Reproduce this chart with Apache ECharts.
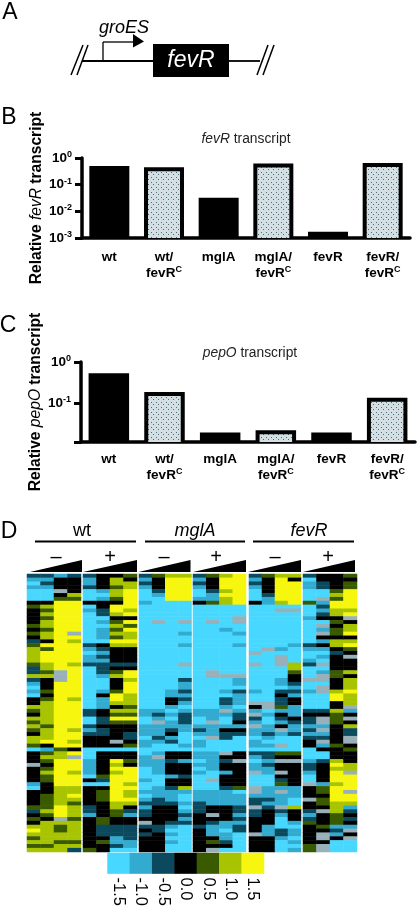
<!DOCTYPE html>
<html><head><meta charset="utf-8">
<style>html,body{margin:0;padding:0;background:#fff}#c{width:417px;height:909px}</style>
<script src="https://cdn.jsdelivr.net/npm/echarts@6/dist/echarts.min.js"></script>
</head><body><div id="c"></div>
<script>
const strainLabels = ['{b|wt}','{b|wt/}\n{b|fevR}{s|C}','{b|mglA}','{b|mglA/}\n{b|fevR}{s|C}','{b|fevR}','{b|fevR/}\n{b|fevR}{s|C}'];
const fevrValues = [0.5, 0.45, 0.032, 0.62, 0.0017, 0.65];
const pepoValues = [0.53, 0.186, 0.019, 0.0218, 0.019, 0.134];
const dottedBars = [false, true, false, true, false, true];
const colorbarTicks = ['-1.5','-1.0','-0.5','0.0','0.5','1.0','1.5'];
const levelValues = {1:-1.5,2:-1.0,3:-0.5,4:0,5:0.5,6:1.0,7:1.5,x:9};
const levelColors = ['#48d8ff','#33abd0','#0b4a5e','#000000','#3a5a00','#a8c400','#f6f60e'];
// one string per column, one character per gene row (1..7 = colour step, x = no data)
const wtMinus = [
 '32121114 54444545 43566665 33632121 44654656 54665144 4x444421 44445345 46765656',
 '32321114 65656656 64757776 65644454 56666665 66674256 54565544 45555654 66666656',
 '2444x457 77777777 77777777 7xxx7777 77777777 77777566 77777776 66667 77x 65566566',
 '34444657 7777777x 76777776 77777777 67777777 67767 47x 77767776 67656665 66666563'];
const wtPlus = [
 '32231114 12111111 11321223 11111111 11133113 23444111 22221414 44443324 44444445',
 '44442124 43312122 21432323 33211124 22244334 33444144 44445314 55544445 53334544',
 '46656654 77645656 57644443 45644457 76465754 444x4144 76767777 77766554 43332231',
 '54667777 76747576 67644443 47767776 66565754 43345144 54777767 66764324 43333221'];
const mglaMinus = [
 '32321112 11111111 11111111 11111111 11122112 22122112 22111211 21232334 x3434444',
 '54443211 1111x111 11111111 11111111 111232x2 2232112x 22221112 22334444 43344444',
 '67777771 11111111 11111111 11111122 44212122 34231144 34442443 22234444 32121211',
 '67777771 1111x112 1121111x 11132232 32123332 21112144 24443446 21121232 31111111'];
const mglaPlus = [
 '32321124 11111111 11111111 11111111 11122112 32122122 12121111 22233344 43444444',
 '54443225 1111x111 11111111 1xx11111 11122 2x2 22x11122 22211x11 22224 4x4 32224 54x',
 '67776766 11111121 11111111 11x11121 332x2112 43311 1x4 34424443 22224444 22122341',
 '77777777 111xx112 11211111 11x22132 22123342 43111144 x4444445 12223323 23311111'];
const fevrMinus = [
 '32321114 11111111 1111x11x 11111121 1x42x32x 22122132 122x111x x233x334 444x4444',
 '54444322 11111111 111x1111 11111111 1xx12112 23212133 23221112 22323444 42224444',
 '67777776 1x111111 11121xxx 11122134 33524324 x211x154 x44x4352 x222x321 11332111',
 '64777777 1x111111 11211116 65443232 44222432 23111154 x4444442 22116444 21221212'];
const fevrPlus = [
 '31221115 11121111 11321123 111x1121 11134332 32344111 23321 1x4 44x44323 54444455',
 '4433 11x2 32341x2x 42421 21x 12xx1xx1 11134xx2 x23x2411 34444425 54554x44 454xx4xx4',
 '44445657 76645455 46643444 45544467 74465554 44445444 67677767 77766655 52324111',
 '54557777 767x4667 46754x44 46466676 66x24x46 33xx4544 466x7777 x7762343 42x4x111'];
const colorbarValues = colorbarTicks.map(Number);

const heatPanels = [
  {cols:wtMinus,  left:27,  width:54},
  {cols:wtPlus,   left:83,  width:54},
  {cols:mglaMinus,left:139, width:52.5},
  {cols:mglaPlus, left:193, width:53},
  {cols:fevrMinus,left:249, width:52},
  {cols:fevrPlus, left:303, width:54}
];
const ROWS = 72;
const FF = '"Liberation Sans", Arial, sans-serif';

function dotPattern(){
  const c=document.createElement('canvas');c.width=5;c.height=5;
  const g=c.getContext('2d');g.fillStyle='#d3dfe3';g.fillRect(0,0,5,5);
  g.fillStyle='#4f6b76';g.fillRect(1,2,1,1);g.fillRect(3,4,1,1);
  return c;
}
const pattern={image:dotPattern(),repeat:'repeat'};

const grids=[
  {left:82,top:158,width:328,height:80},
  {left:81,top:362,width:334,height:80}
];
const xAxes=[],yAxes=[],series=[];
const supFmt=v=>'{b|10}{s|'+Math.round(Math.log10(v))+'}';
const rich={b:{fontFamily:FF,fontWeight:'bold',fontSize:13.5,lineHeight:16,color:'#000'},
            s:{fontFamily:FF,fontWeight:'bold',fontSize:9,lineHeight:16,verticalAlign:'top',color:'#000'}};
const nameRich={n:{fontFamily:FF,fontWeight:'bold',fontSize:15.6,color:'#000'},
                i:{fontFamily:FF,fontWeight:'normal',fontStyle:'italic',fontSize:15.6,color:'#000'}};
[[0,0.001,'{n|Relative }{i|fevR}{n| transcript}',11],[1,0.0112,'{n|Relative }{i|pepO}{n| transcript}',9]].forEach(([i,min,name,mg])=>{
  xAxes.push({gridIndex:i,type:'category',data:strainLabels,
    axisLine:{lineStyle:{color:'#000',width:3.5}},
    axisTick:{alignWithLabel:true,length:6,lineStyle:{color:'#000',width:3}},
    axisLabel:{margin:mg,interval:0,rich:rich,formatter:v=>v,color:'#000'}});
  yAxes.push({gridIndex:i,type:'log',logBase:10,min:min,max:1,
    name:name,nameLocation:'middle',nameRotate:90,nameGap:37,nameMoveOverlap:false,nameTextStyle:{rich:nameRich},
    splitLine:{show:false},minorTick:{show:false},
    axisLine:{show:true,lineStyle:{color:'#000',width:3.5}},
    axisTick:{show:true,length:7,lineStyle:{color:'#000',width:3}},
    axisLabel:{margin:10,rich:rich,color:'#000',formatter:v=>(i===1&&v<0.05)?'':supFmt(v),showMinLabel:true,showMaxLabel:true}});
});
function bars(i,values,axisMin,barW,inset){
  series.push({type:'custom',xAxisIndex:i,yAxisIndex:i,silent:true,animation:false,clip:false,
    encode:{x:0,y:1},
    data:values.map((v,c)=>[c,v]),
    renderItem:(params,api)=>{
      const c=api.value(0);
      const top=api.coord([c,api.value(1)]);
      const base=api.coord([c,axisMin]);
      const children=[{type:'rect',shape:{x:top[0]-barW/2,y:top[1],width:barW,height:base[1]-top[1]},style:{fill:'#000'}}];
      if(dottedBars[c]&&base[1]-top[1]>inset){
        children.push({type:'rect',shape:{x:top[0]-barW/2+inset,y:top[1]+inset,width:barW-2*inset,height:base[1]-top[1]-inset},style:{fill:pattern}});
      }
      return {type:'group',children};
    }});
}
bars(0,fevrValues,0.001,40,4);
bars(1,pepoValues,0.0112,40.5,4);

const hidden={show:false};
const firstHeat=series.length;
heatPanels.forEach((p,pi)=>{
  const gi=grids.length;
  grids.push({left:p.left,top:574,width:p.width,height:278});
  xAxes.push({gridIndex:gi,type:'category',data:[0,1,2,3],show:false,axisLine:hidden,axisTick:hidden,axisLabel:hidden});
  yAxes.push({gridIndex:gi,type:'category',inverse:true,data:Array.from({length:ROWS},(_,r)=>r),show:false,axisLine:hidden,axisTick:hidden,axisLabel:hidden});
  const data=[];
  p.cols.forEach((s,c)=>{
    const t=s.replace(/ /g,'');
    for(let r=0;r<ROWS;r++){const ch=t[Math.min(r,t.length-1)];data.push([c,r,levelValues[ch]]);}
  });
  series.push({type:'heatmap',xAxisIndex:gi,yAxisIndex:gi,data:data,silent:true,animation:false,progressive:0,
    itemStyle:{borderWidth:0}});
});
// colour bar
const cbGrid=grids.length;
grids.push({left:107.5,top:853,width:156.5,height:23});
xAxes.push({gridIndex:cbGrid,type:'category',data:colorbarTicks,axisLine:hidden,axisTick:hidden,
  axisLabel:{rotate:-90,margin:4,fontSize:16.5,fontFamily:FF,color:'#000',interval:0}});
yAxes.push({gridIndex:cbGrid,type:'category',data:['c'],show:false});
series.push({type:'heatmap',xAxisIndex:cbGrid,yAxisIndex:cbGrid,silent:true,animation:false,
  data:colorbarValues.map((v,i)=>[i,0,v])});
const heatIdx=[];for(let i=firstHeat;i<series.length;i++)heatIdx.push(i);

function t(x,y,text,o){return {type:'text',silent:true,x:x,y:y,style:Object.assign({text:text,fontFamily:FF,fill:'#000',fontSize:14,textAlign:'center',textVerticalAlign:'middle'},o||{})};}
function line(x1,y1,x2,y2,w){return {type:'line',silent:true,shape:{x1,y1,x2,y2},style:{stroke:'#000',lineWidth:w||2}};}
function poly(pts){return {type:'polygon',silent:true,shape:{points:pts},style:{fill:'#000'}};}
const headTri=[[30,82],[83,137],[138.5,190.5],[193,246],[248,301],[303,355]];
const signs=[[56,'–'],[110,'+'],[164,'–'],[216,'+'],[275,'–'],[328,'+']];
const graphic=[
  t(10,13,'A',{fontSize:23}),t(9,118,'B',{fontSize:23}),t(8,326,'C',{fontSize:23}),t(9,532,'D',{fontSize:23}),
  line(82,61,153,61,1.8),line(229,61,260,61,1.8),
  line(71,75,83,45,1.5),line(77,75,88,45,1.5),line(257,75,268,45,1.5),line(263,75,274,45,1.5),
  {type:'rect',silent:true,shape:{x:153,y:44,width:76,height:33},style:{fill:'#000'}},
  t(191,61,'fevR',{fill:'#fff',fontStyle:'italic',fontSize:23}),
  t(124,28,'groES',{fontStyle:'italic',fontSize:18}),
  line(103,61,103,42,1.3),line(103,42,135,42,1.3),poly([[133,34],[144,41.5],[133,47.5]]),
  t(82,531,'wt',{fontSize:18}),t(195,531,'mglA',{fontStyle:'italic',fontSize:18}),t(309,531,'fevR',{fontStyle:'italic',fontSize:18}),
  line(35,541.5,136,541.5,2),line(145,541.5,245,541.5,2),line(253,541.5,354,541.5,2)
];
headTri.forEach(([a,b])=>graphic.push(poly([[a,572],[b,572],[b,560]])));
signs.forEach(([x,s])=>graphic.push(t(x,557,s,{fontSize:20})));

const titleRich={i:{fontFamily:FF,fontStyle:'italic',fontWeight:'normal',fontSize:13.8,color:'#222'},n:{fontFamily:FF,fontWeight:'normal',fontSize:13.8,color:'#222'}};
const chart=echarts.init(document.getElementById('c'),null,{renderer:'canvas',width:417,height:909});
chart.setOption({
  animation:false,backgroundColor:'#fff',
  title:[
   {left:241,top:127,textAlign:'center',text:'{i|fevR}{n| transcript}',textStyle:{fontWeight:'normal',rich:titleRich}},
   {left:245,top:341,textAlign:'center',text:'{i|pepO}{n| transcript}',textStyle:{fontWeight:'normal',rich:titleRich}}
  ],
  grid:grids,xAxis:xAxes,yAxis:yAxes,series:series,graphic:{elements:graphic},
  visualMap:{type:'piecewise',show:false,seriesIndex:heatIdx,dimension:2,
    pieces:colorbarValues.map((v,i)=>({value:v,color:levelColors[i]})).concat([{value:9,color:'#97b0ba'}])}
});
</script></body></html>
